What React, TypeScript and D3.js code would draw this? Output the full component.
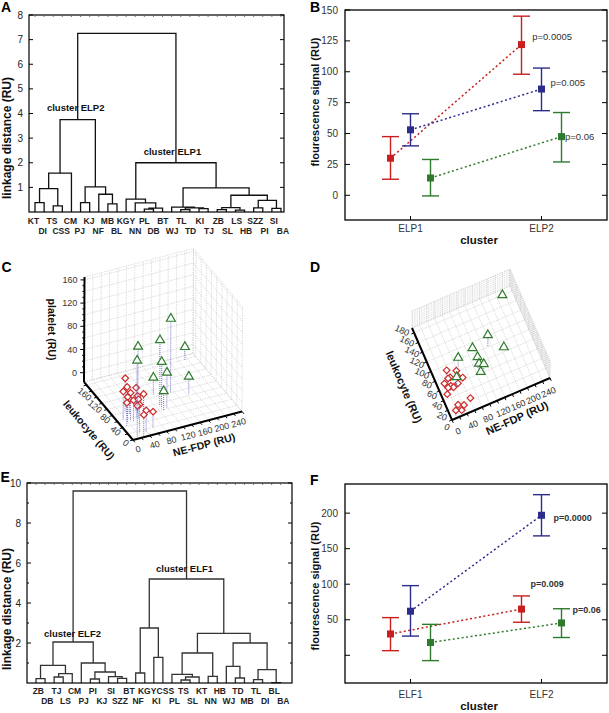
import React, { useEffect, useRef } from 'react';
import * as d3 from 'd3';

type Sel = d3.Selection<SVGGElement, unknown, null, undefined>;
type Pt = [number, number];

const FONT = '"Liberation Sans", Arial, Helvetica, sans-serif';

// ---- dendrograms (A, E) ----
// merges: [childA, childB, height]; child < leaves.length is a leaf, else leaves.length + merge index
const elpLeaves = ['KT', 'DI', 'TS', 'CSS', 'CM', 'PJ', 'KJ', 'NF', 'MB', 'BL', 'KGY', 'NN', 'PL', 'DB',
  'BT', 'WJ', 'TL', 'TD', 'KI', 'TJ', 'ZB', 'SL', 'LS', 'HB', 'SZZ', 'PI', 'SI', 'BA'];
const elpMerges = [
  [0, 1, 0.38], [2, 3, 0.25], [28, 29, 0.95], [30, 4, 1.58], [5, 6, 0.38], [8, 9, 0.33],
  [7, 33, 0.72], [32, 34, 1.02], [31, 35, 3.75], [12, 13, 0.12], [37, 14, 0.16], [11, 38, 0.37],
  [10, 39, 0.52], [16, 17, 0.1], [18, 19, 0.14], [41, 42, 0.17], [15, 43, 0.2], [20, 21, 0.1],
  [22, 23, 0.08], [45, 46, 0.18], [24, 25, 0.17], [26, 27, 0.15], [48, 49, 0.47], [47, 50, 0.68],
  [44, 51, 0.98], [40, 52, 2.0], [36, 53, 7.25],
];
const elpClusterNames = ['cluster ELP2', 'cluster ELP1'];

const elfLeaves = ['ZB', 'DB', 'TJ', 'LS', 'CM', 'PJ', 'PI', 'KJ', 'SI', 'SZZ', 'BT', 'NF', 'KGY', 'KI',
  'CSS', 'PL', 'TS', 'SL', 'KT', 'NN', 'HB', 'WJ', 'TD', 'MB', 'TL', 'DI', 'BL', 'BA'];
const elfMerges = [
  [0, 1, 0.22], [2, 3, 0.3], [29, 4, 0.47], [28, 30, 0.88], [6, 7, 0.2], [9, 10, 0.23],
  [8, 33, 0.32], [32, 34, 0.55], [5, 35, 1.0], [31, 36, 2.05], [11, 12, 0.5], [13, 14, 1.28],
  [38, 39, 2.75], [16, 17, 0.15], [41, 18, 0.3], [15, 42, 0.43], [19, 20, 0.33], [43, 44, 1.5],
  [22, 23, 0.25], [21, 46, 0.83], [24, 25, 0.17], [26, 27, 0.02], [48, 49, 0.67], [47, 50, 2.0],
  [45, 51, 2.48], [40, 52, 5.2], [37, 53, 9.6],
];
const elfClusterNames = ['cluster ELF2', 'cluster ELF1'];

// ---- group means (B, F) : series order red, blue, green ----
const seriesColors = ['#c81e1e', '#2c2c8c', '#2e7b2e'];
const elpClusters = ['ELP1', 'ELP2'];
const elpMeans = [[30, 122], [53, 86], [14, 47.5]];
const elpLow = [[13, 98], [40, 68.5], [-0.5, 27]];
const elpHigh = [[47.5, 145], [66, 103], [29, 67]];
const elpP = ['p=0.0005', 'p=0.005', 'p=0.06'];

const elfClusters = ['ELF1', 'ELF2'];
const elfMeans = [[30, 65], [62, 197], [18, 45.5]];
const elfLow = [[6.5, 46.5], [27, 168], [-7.5, 25]];
const elfHigh = [[53, 83.5], [98, 226], [43.5, 65.5]];
const elfP = ['p=0.009', 'p=0.0000', 'p=0.06'];

// ---- 3D scatter (C, D) ----
const redNE = [31, 54, 35, 52, 62, 14, 27, 26, 32, 19, 46, 11, 60, 24, 38, 28, 13];
const redLeuk = [81, 76, 71, 67, 60, 61, 67, 52, 50, 52, 54, 42, 20, 14, 11, 4, 5];
const redPlt = [42, 24, 11, 15, 20, 33, 35, 33, 20, 27, 17, 24, 11, 33, 22, 20, 38];
const greenNE = [232, 151, 184, 113, 65, 108, 108, 120, 108, 43];
const greenLeuk = [176, 100, 83, 105, 87, 72, 65, 64, 57, 55];
const greenPlt = [8, 112, 15, 15, 87, 98, 64, 44, 18, 84];

const neScale = d3.scaleLinear().domain([0, 260]).range([0, 1]);
const leukScale = d3.scaleLinear().domain([0, 190]).range([0, 1]);
const pltScale = d3.scaleLinear().domain([-16, 165]).range([0, 1]);

interface View3D { o: Pt; ex: Pt; ey: Pt; ez: Pt }

const proj = (v: View3D, ne: number, lk: number, pl: number): Pt => {
  const a = neScale(ne), b = leukScale(lk), c = pltScale(pl);
  return [
    v.o[0] + a * v.ex[0] + b * v.ey[0] + c * v.ez[0],
    v.o[1] + a * v.ex[1] + b * v.ey[1] + c * v.ez[1],
  ];
};

interface DendroCfg {
  left: number; right: number; top: number; bottom: number;
  yMax: number; labelStep: number;
  leafRange: Pt; labelRange: Pt; rowY: Pt;
  clusterNodes: number[]; clusterOffsets: Pt[];
  titleY: number; color: string;
}

function drawDendrogram(root: Sel, leaves: string[], merges: number[][], names: string[], cfg: DendroCfg) {
  const g = root.append('g');
  const y = d3.scaleLinear().domain([0, cfg.yMax]).range([cfg.bottom, cfg.top]);
  const leafX = d3.scaleLinear().domain([0, leaves.length - 1]).range(cfg.leafRange);
  const labX = d3.scaleLinear().domain([0, leaves.length - 1]).range(cfg.labelRange);

  const xs = leaves.map((_, i) => leafX(i));
  const hs = leaves.map(() => 0);
  const p = d3.path();
  merges.forEach(([a, b, h]) => {
    p.moveTo(xs[a], y(hs[a]));
    p.lineTo(xs[a], y(h));
    p.lineTo(xs[b], y(h));
    p.lineTo(xs[b], y(hs[b]));
    xs.push((xs[a] + xs[b]) / 2);
    hs.push(h);
  });
  g.append('path').attr('d', p.toString()).attr('fill', 'none')
    .attr('stroke', cfg.color).attr('stroke-width', 1.3);

  // frame and ticks
  g.append('rect').attr('x', cfg.left).attr('y', cfg.top)
    .attr('width', cfg.right - cfg.left).attr('height', cfg.bottom - cfg.top)
    .attr('fill', 'none').attr('stroke', '#000').attr('stroke-width', 1.2);
  d3.range(1, cfg.yMax + 0.01, 1).forEach(t => {
    const major = t % cfg.labelStep === 0;
    const len = major ? 4 : 2;
    g.append('line').attr('x1', cfg.left).attr('x2', cfg.left + len)
      .attr('y1', y(t)).attr('y2', y(t)).attr('stroke', '#000');
    g.append('line').attr('x1', cfg.right).attr('x2', cfg.right - len)
      .attr('y1', y(t)).attr('y2', y(t)).attr('stroke', '#000');
    if (major) {
      g.append('text').attr('x', cfg.left - 6).attr('y', y(t)).attr('dy', '0.35em')
        .attr('text-anchor', 'end').attr('font-size', 10).attr('fill', '#222').text(t);
    }
  });
  leaves.forEach((_, i) => {
    g.append('line').attr('x1', leafX(i)).attr('x2', leafX(i))
      .attr('y1', cfg.top).attr('y2', cfg.top + 2).attr('stroke', '#555').attr('stroke-width', 0.8);
  });

  // leaf labels, alternating rows
  g.selectAll('text.leaf').data(leaves).enter().append('text')
    .attr('class', 'leaf')
    .attr('x', (_, i) => labX(i))
    .attr('y', (_, i) => cfg.rowY[i % 2])
    .attr('text-anchor', 'middle').attr('font-size', 8.5).attr('font-weight', 'bold')
    .attr('fill', '#222').text(d => d);

  names.forEach((name, k) => {
    const node = cfg.clusterNodes[k];
    const [dx, dy] = cfg.clusterOffsets[k];
    g.append('text').attr('x', xs[node] + dx).attr('y', y(hs[node]) + dy)
      .attr('text-anchor', 'middle').attr('font-size', 9.5).attr('font-weight', 'bold')
      .attr('fill', '#111').text(name);
  });

  g.append('text').attr('transform', `translate(10.5,${cfg.titleY}) rotate(-90)`)
    .attr('text-anchor', 'middle').attr('font-size', 12).attr('font-weight', 'bold')
    .attr('fill', '#111').text('linkage distance (RU)');
}

interface MeansCfg {
  left: number; right: number; top: number; bottom: number;
  yDomain: Pt; ticks: number[]; labeled: number[];
  tickLabelGap: number; titleGap: number; titleY: number;
  pBold: boolean; pSize: number; pOffsets: Pt[];
}

function drawMeans(root: Sel, clusters: string[], means: number[][], lows: number[][], highs: number[][],
  pLabels: string[], cfg: MeansCfg) {
  const g = root.append('g');
  const x = d3.scalePoint<string>().domain(clusters).range([cfg.left, cfg.right]).padding(0.5);
  const off = d3.scalePoint<number>().domain([0, 1, 2]).range([-20, 20]);
  const y = d3.scaleLinear().domain(cfg.yDomain).range([cfg.bottom, cfg.top]);

  g.append('rect').attr('x', cfg.left).attr('y', cfg.top)
    .attr('width', cfg.right - cfg.left).attr('height', cfg.bottom - cfg.top)
    .attr('fill', 'none').attr('stroke', '#000').attr('stroke-width', 1.3);
  cfg.ticks.forEach(t => {
    g.append('line').attr('x1', cfg.left).attr('x2', cfg.left + 5)
      .attr('y1', y(t)).attr('y2', y(t)).attr('stroke', '#000');
    g.append('line').attr('x1', cfg.right).attr('x2', cfg.right - 5)
      .attr('y1', y(t)).attr('y2', y(t)).attr('stroke', '#000');
  });
  cfg.labeled.forEach(t => {
    g.append('text').attr('x', cfg.left - 7).attr('y', y(t)).attr('dy', '0.35em')
      .attr('text-anchor', 'end').attr('font-size', 10).attr('fill', '#333').text(t);
  });
  clusters.forEach(c => {
    g.append('line').attr('x1', x(c)!).attr('x2', x(c)!)
      .attr('y1', cfg.bottom).attr('y2', cfg.bottom - 4).attr('stroke', '#000');
    g.append('text').attr('x', x(c)!).attr('y', cfg.bottom + cfg.tickLabelGap)
      .attr('text-anchor', 'middle').attr('font-size', 10).attr('fill', '#333').text(c);
  });
  g.append('text').attr('x', (cfg.left + cfg.right) / 2 + 3).attr('y', cfg.bottom + cfg.titleGap)
    .attr('text-anchor', 'middle').attr('font-size', 11.5).attr('font-weight', 'bold')
    .attr('fill', '#111').text('cluster');
  g.append('text').attr('transform', `translate(319,${cfg.titleY}) rotate(-90)`)
    .attr('text-anchor', 'middle').attr('font-size', 11).attr('font-weight', 'bold')
    .attr('fill', '#111').text('flourescence signal (RU)');

  const line = d3.line<number>()
    .x((_, j) => x(clusters[j])!)
    .y(v => y(v));

  means.forEach((m, s) => {
    g.append('path').attr('d', line(m)!).attr('transform', `translate(${off(s)},0)`)
      .attr('fill', 'none').attr('stroke', seriesColors[s]).attr('stroke-width', 1.5)
      .attr('stroke-dasharray', '2,2.5');
  });
  means.forEach((m, s) => {
    m.forEach((v, j) => {
      const cx = x(clusters[j])! + off(s)!;
      const col = seriesColors[s];
      const ey = g.append('g').attr('stroke', col).attr('stroke-width', 1.4);
      ey.append('line').attr('x1', cx).attr('x2', cx).attr('y1', y(lows[s][j])).attr('y2', y(highs[s][j]));
      ey.append('line').attr('x1', cx - 8.5).attr('x2', cx + 8.5).attr('y1', y(lows[s][j])).attr('y2', y(lows[s][j]));
      ey.append('line').attr('x1', cx - 8.5).attr('x2', cx + 8.5).attr('y1', y(highs[s][j])).attr('y2', y(highs[s][j]));
      g.append('rect').attr('x', cx - 3.5).attr('y', y(v) - 3.5).attr('width', 7).attr('height', 7)
        .attr('fill', col);
    });
  });
  pLabels.forEach((lab, s) => {
    const cx = x(clusters[1])! + off(s)!;
    g.append('text').attr('x', cx + cfg.pOffsets[s][0]).attr('y', y(means[s][1]) + cfg.pOffsets[s][1])
      .attr('font-size', cfg.pSize).attr('font-weight', cfg.pBold ? 'bold' : 'normal')
      .attr('fill', '#333').text(lab);
  });
}

interface Cfg3D {
  view: View3D;
  pltAxis: boolean;
  leukTicks: number[]; leukRot: number; leukOff: (l: number) => Pt;
  neTicks: number[]; neRot: number; neOff: Pt;
  leukTitleOff: Pt; leukTitleRot: number; neTitleOff: Pt; neTitleRot: number; titleSize: number;
}

function draw3D(root: Sel, cfg: Cfg3D) {
  const v = cfg.view;
  const g = root.append('g');
  const [n0, n1] = neScale.domain();
  const [l0, l1] = leukScale.domain();
  const [p0, p1] = pltScale.domain();
  const neGrid = d3.range(n0, n1 + 0.1, 20);
  const lkGrid = [...d3.range(l0, l1, 20), l1];
  const plGrid = [p0, ...d3.range(0, p1, 20), p1];

  const segs: [number[], number[]][] = [];
  neGrid.forEach(n => segs.push([[n, l0, p0], [n, l1, p0]], [[n, l1, p0], [n, l1, p1]]));
  lkGrid.forEach(l => segs.push([[n0, l, p0], [n1, l, p0]], [[n1, l, p0], [n1, l, p1]]));
  plGrid.forEach(p => segs.push([[n0, l1, p], [n1, l1, p]], [[n1, l0, p], [n1, l1, p]]));
  segs.forEach(([a, b]) => {
    const pa = proj(v, a[0], a[1], a[2]);
    const pb = proj(v, b[0], b[1], b[2]);
    g.append('line').attr('x1', pa[0]).attr('y1', pa[1]).attr('x2', pb[0]).attr('y2', pb[1])
      .attr('stroke', '#c8c8c8').attr('stroke-width', 0.6).attr('stroke-dasharray', '1.5,1');
  });

  // axes
  const axis = (a: Pt, b: Pt) => g.append('line').attr('x1', a[0]).attr('y1', a[1])
    .attr('x2', b[0]).attr('y2', b[1]).attr('stroke', '#000').attr('stroke-width', 2);
  const origin = proj(v, n0, l0, p0);
  axis(origin, proj(v, n1, l0, p0));
  axis(origin, proj(v, n0, l1, p0));

  const norm = (p: Pt): Pt => { const l = Math.hypot(p[0], p[1]); return [p[0] / l, p[1] / l]; };
  const neOut = norm([-v.ey[0], -v.ey[1]]);
  const lkOut = norm([-v.ex[0], -v.ex[1]]);

  d3.range(n0, n1 + 0.1, 20).forEach(n => {
    const p = proj(v, n, l0, p0);
    g.append('line').attr('x1', p[0]).attr('y1', p[1])
      .attr('x2', p[0] + neOut[0] * 3).attr('y2', p[1] + neOut[1] * 3).attr('stroke', '#000');
  });
  d3.range(l0, l1, 20).forEach(l => {
    const p = proj(v, n0, l, p0);
    g.append('line').attr('x1', p[0]).attr('y1', p[1])
      .attr('x2', p[0] + lkOut[0] * 3).attr('y2', p[1] + lkOut[1] * 3).attr('stroke', '#000');
  });
  cfg.neTicks.forEach(n => {
    const p = proj(v, n, l0, p0);
    g.append('text')
      .attr('transform', `translate(${p[0] + cfg.neOff[0]},${p[1] + cfg.neOff[1]}) rotate(${cfg.neRot})`)
      .attr('text-anchor', 'middle').attr('dy', '0.35em').attr('font-size', 9).attr('fill', '#333').text(n);
  });
  cfg.leukTicks.forEach(l => {
    const p = proj(v, n0, l, p0);
    const o = cfg.leukOff(l);
    g.append('text')
      .attr('transform', `translate(${p[0] + o[0]},${p[1] + o[1]}) rotate(${cfg.leukRot})`)
      .attr('text-anchor', 'middle').attr('dy', '0.35em').attr('font-size', 9).attr('fill', '#333').text(l);
  });

  if (cfg.pltAxis) {
    axis(proj(v, n0, l1, p0), proj(v, n0, l1, p1));
    d3.range(0, p1, 10).forEach(p => {
      const q = proj(v, n0, l1, p);
      g.append('line').attr('x1', q[0]).attr('y1', q[1]).attr('x2', q[0] - (p % 40 === 0 ? 4 : 2))
        .attr('y2', q[1]).attr('stroke', '#000');
    });
    d3.range(0, p1, 40).forEach(p => {
      const q = proj(v, n0, l1, p);
      g.append('text').attr('x', q[0] - 7).attr('y', q[1]).attr('dy', '0.35em')
        .attr('text-anchor', 'end').attr('font-size', 9).attr('fill', '#333').text(p);
    });
    const mid = proj(v, n0, l1, (p0 + p1) / 2);
    g.append('text').attr('transform', `translate(${mid[0] - 36},${mid[1]}) rotate(90)`)
      .attr('text-anchor', 'middle').attr('font-size', cfg.titleSize).attr('font-weight', 'bold')
      .attr('fill', '#111').text('platelet (RU)');
  }

  const lkMid = proj(v, n0, (l0 + l1) / 2, p0);
  g.append('text')
    .attr('transform', `translate(${lkMid[0] + cfg.leukTitleOff[0]},${lkMid[1] + cfg.leukTitleOff[1]}) rotate(${cfg.leukTitleRot})`)
    .attr('text-anchor', 'middle').attr('dy', '0.35em').attr('font-size', cfg.titleSize)
    .attr('font-weight', 'bold').attr('fill', '#111').text('leukocyte (RU)');
  const neMid = proj(v, (n0 + n1) / 2, l0, p0);
  g.append('text')
    .attr('transform', `translate(${neMid[0] + cfg.neTitleOff[0]},${neMid[1] + cfg.neTitleOff[1]}) rotate(${cfg.neTitleRot})`)
    .attr('text-anchor', 'middle').attr('dy', '0.35em').attr('font-size', cfg.titleSize)
    .attr('font-weight', 'bold').attr('fill', '#111').text('NE-FDP (RU)');

  // drop lines + markers
  const drawGroup = (ne: number[], lk: number[], pl: number[], shape: 'diamond' | 'triangle', color: string) => {
    ne.forEach((n, i) => {
      const top = proj(v, n, lk[i], pl[i]);
      const base = proj(v, n, lk[i], p0);
      g.append('line').attr('x1', top[0]).attr('y1', top[1]).attr('x2', base[0]).attr('y2', base[1])
        .attr('stroke', '#6a6ac8').attr('stroke-width', 0.9).attr('stroke-dasharray', '1,1');
    });
    ne.forEach((n, i) => {
      const top = proj(v, n, lk[i], pl[i]);
      const sym = shape === 'diamond'
        ? d3.symbol().type(d3.symbolSquare).size(22)()
        : d3.symbol().type(d3.symbolTriangle).size(34)();
      g.append('path').attr('d', sym!)
        .attr('transform', `translate(${top[0]},${top[1]})${shape === 'diamond' ? ' rotate(45)' : ''}`)
        .attr('fill', '#fff').attr('stroke', color).attr('stroke-width', 1.2);
    });
  };
  drawGroup(redNE, redLeuk, redPlt, 'diamond', '#cc2a2a');
  drawGroup(greenNE, greenLeuk, greenPlt, 'triangle', '#2e7b2e');
}

const App: React.FC = () => {
  const svgRef = useRef<SVGSVGElement>(null);

  useEffect(() => {
    if (!svgRef.current) return;
    const svg = d3.select(svgRef.current);
    svg.selectAll('*').remove();
    const root = svg.append('g').attr('font-family', FONT) as unknown as Sel;
    root.append('rect').attr('width', 609).attr('height', 713).attr('fill', '#fff');

    drawDendrogram(root, elpLeaves, elpMerges, elpClusterNames, {
      left: 29, right: 284, top: 15, bottom: 212, yMax: 8, labelStep: 1,
      leafRange: [35, 281], labelRange: [33.5, 283], rowY: [224, 234],
      clusterNodes: [36, 53], clusterOffsets: [[-2, -9], [-3.5, -7.3]],
      titleY: 138, color: '#111',
    });

    drawMeans(root, elpClusters, elpMeans, elpLow, elpHigh, elpP, {
      left: 345, right: 607, top: 10, bottom: 220, yDomain: [-20, 150],
      ticks: d3.range(0, 151, 25), labeled: d3.range(0, 151, 25),
      tickLabelGap: 11.7, titleGap: 23.5, titleY: 102,
      pBold: false, pSize: 9.5, pOffsets: [[10.7, -5], [9, -3], [3.5, 3]],
    });

    draw3D(root, {
      view: { o: [133, 440], ex: [109, -28.5], ey: [-49, -58], ez: [0.5, -105] },
      pltAxis: true,
      leukTicks: [0, 40, 80, 120, 160], leukRot: 40, leukOff: () => [-7, 3],
      neTicks: [0, 40, 80, 120, 160, 200, 240], neRot: -15, neOff: [5, 9],
      leukTitleOff: [-19.5, 19], leukTitleRot: 50, neTitleOff: [16.5, 19], neTitleRot: -15, titleSize: 10.5,
    });

    draw3D(root, {
      view: { o: [452, 420], ex: [98, -42], ey: [-40, -92], ez: [0, -17] },
      pltAxis: false,
      leukTicks: d3.range(0, 181, 20), leukRot: 25, leukOff: l => [-5 - 7 * l / 180, 7 - 9.5 * l / 180],
      neTicks: [0, 40, 80, 120, 160, 200, 240], neRot: -23, neOff: [6, 11],
      leukTitleOff: [-28, 13], leukTitleRot: 67, neTitleOff: [16, 19], neTitleRot: -24, titleSize: 11,
    });

    drawDendrogram(root, elfLeaves, elfMerges, elfClusterNames, {
      left: 27, right: 292, top: 483, bottom: 683, yMax: 10, labelStep: 2,
      leafRange: [36, 280.7], labelRange: [38.3, 283.3], rowY: [694, 703.5],
      clusterNodes: [37, 53], clusterOffsets: [[-0.6, -5.3], [-2, -7.3]],
      titleY: 609, color: '#333',
    });

    drawMeans(root, elfClusters, elfMeans, elfLow, elfHigh, elfP, {
      left: 345, right: 607, top: 484, bottom: 683, yDomain: [-39, 241],
      ticks: [0, 50, 100, 150, 200], labeled: [50, 100, 150, 200],
      tickLabelGap: 14.5, titleGap: 26.5, titleY: 586,
      pBold: true, pSize: 9, pOffsets: [[9, -22.4], [12, 5.4], [11, -10]],
    });

    const letters: [string, number, number][] = [
      ['A', 1, 11.5], ['B', 310, 11.5], ['C', 1.5, 271.5], ['D', 310, 271.5], ['E', 0.5, 481.5], ['F', 310, 485],
    ];
    letters.forEach(([t, x, y]) => {
      root.append('text').attr('x', x).attr('y', y).attr('font-size', 14).attr('font-weight', 'bold')
        .attr('fill', '#000').text(t);
    });
  }, []);

  return (
    <svg
      ref={svgRef}
      width={609}
      height={713}
      style={{ position: 'absolute', left: 0, top: 0, background: '#fff' }}
    />
  );
};

export default App;
